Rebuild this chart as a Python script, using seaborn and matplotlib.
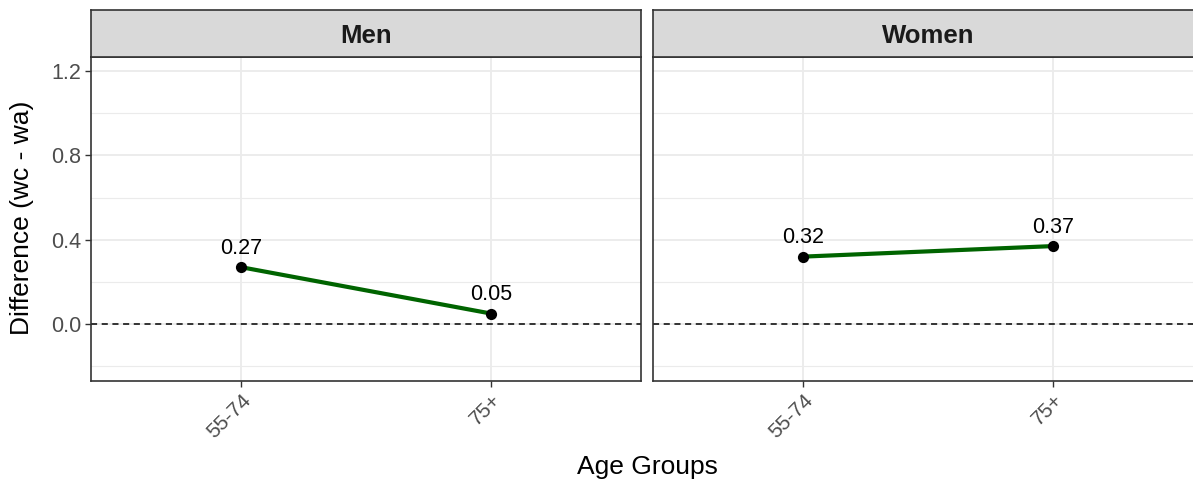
import matplotlib
matplotlib.use("Agg")
import matplotlib.pyplot as plt
import matplotlib.transforms as mtransforms
import seaborn as sns
import pandas as pd

sns.set_theme(style="white")
plt.rcParams['font.family'] = ['Liberation Sans', 'DejaVu Sans']

panels = ["Men", "Women"]
age_groups = ["55-74", "75+"]
men_values = [0.27, 0.05]
women_values = [0.32, 0.37]
y_ticks = [0.0, 0.4, 0.8, 1.2]
y_minor = [-0.2, 0.2, 0.6, 1.0]

df = pd.DataFrame({
    "sex": ["Men"] * 2 + ["Women"] * 2,
    "age": age_groups * 2,
    "diff": men_values + women_values,
})

W, H = 1193, 484
fig = plt.figure(figsize=(W / 100, H / 100), dpi=100)

dark = "#333333"
panel_lefts = [91, 653]
pw = 550
ptop, pbot = 57, 381
stop = 10

for i, sex in enumerate(panels):
    left = panel_lefts[i]
    ax = fig.add_axes([left / W, (H - pbot) / H, pw / W, (pbot - ptop) / H])
    sub = df[df["sex"] == sex]
    for y in y_minor:
        ax.axhline(y, color="#EBEBEB", lw=0.8, zorder=0)
    for y in y_ticks:
        ax.axhline(y, color="#EBEBEB", lw=1.3, zorder=0)
    for x in range(len(age_groups)):
        ax.axvline(x, color="#EBEBEB", lw=1.3, zorder=0)
    ax.axhline(0, color="black", lw=1.1, ls=(0, (4, 3)), zorder=1)
    sns.lineplot(data=sub, x="age", y="diff", color="#006400", lw=3, ax=ax, zorder=2, sort=False)
    sns.scatterplot(data=sub, x="age", y="diff", color="black", s=65, ax=ax, zorder=3, linewidth=0)
    for j, (a, v) in enumerate(zip(sub["age"], sub["diff"])):
        ax.annotate(f"{v:.2f}", (j, v), xytext=(0, 9.5), textcoords="offset points",
                    ha="center", va="baseline", fontsize=15.5, color="black")
    ax.set_xlim(-0.6, 1.6)
    ax.set_ylim(-0.27, 1.267)
    ax.set_xticks(range(len(age_groups)))
    ax.set_xticklabels(age_groups, rotation=45, ha="right", va="top", rotation_mode="anchor",
                       fontsize=15, color="#4D4D4D")
    offset = mtransforms.ScaledTranslation(10 / 100, -3 / 100, fig.dpi_scale_trans)
    for lab in ax.get_xticklabels():
        lab.set_transform(lab.get_transform() + offset)
    ax.set_yticks(y_ticks)
    if i == 0:
        ax.set_yticklabels([f"{t:.1f}" for t in y_ticks], fontsize=15.5, color="#4D4D4D")
    else:
        ax.set_yticklabels([])
    ax.tick_params(axis="both", which="major", length=4, width=1, color=dark,
                   direction="out", bottom=True, left=(i == 0), pad=3)
    if i == 1:
        ax.tick_params(axis="y", length=0)
    ax.set_xlabel("")
    ax.set_ylabel("")
    for s in ax.spines.values():
        s.set_color(dark)
        s.set_linewidth(1.2)
    # strip
    sax = fig.add_axes([left / W, (H - ptop) / H, pw / W, (ptop - stop) / H])
    sax.set_facecolor("#D9D9D9")
    sax.set_xticks([])
    sax.set_yticks([])
    for s in sax.spines.values():
        s.set_color(dark)
        s.set_linewidth(1.2)
    if i == 1:
        ax.spines["right"].set_visible(False)
        sax.spines["right"].set_visible(False)
    sax.text(0.5, 0.45, sex, ha="center", va="center", fontsize=18.5, fontweight="bold",
             color="#1A1A1A", transform=sax.transAxes)

fig.text(647 / W, 1 - 467 / H, "Age Groups", ha="center", va="center", fontsize=19, color="black")
fig.text(22 / W, 1 - 218 / H, "Difference (wc - wa)", ha="center", va="center",
         rotation=90, fontsize=19, color="black")

fig.savefig("out.png", dpi=100, facecolor="white")
